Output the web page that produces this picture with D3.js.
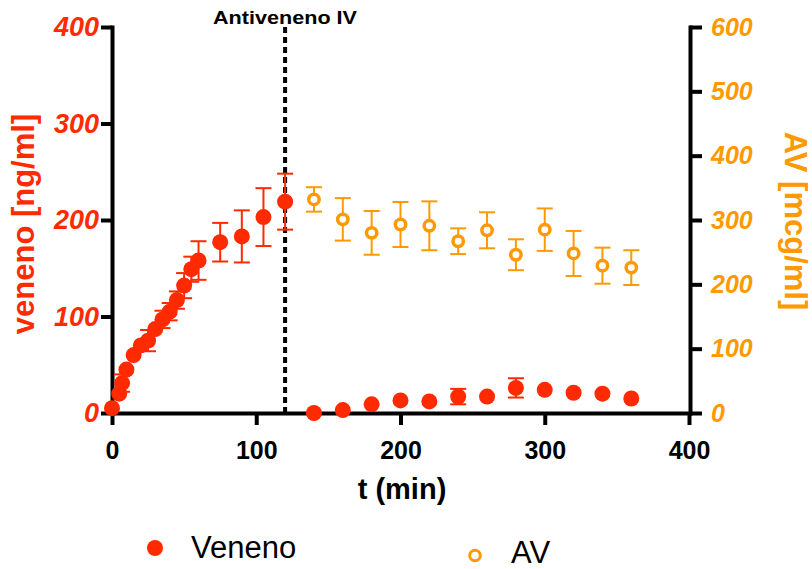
<!DOCTYPE html>
<html>
<head>
<meta charset="utf-8">
<script src="https://cdn.jsdelivr.net/npm/d3@7"></script>
<style>
  body { margin: 0; background: #fff; }
  svg { display: block; font-family: "Liberation Sans", Arial, sans-serif; }
</style>
</head>
<body>
<div id="vis-container"></div>
<script>

////////////////////////////////////
/////////////// Data ///////////////
////////////////////////////////////

const venenoTime = [0, 5, 7, 10, 15, 20, 25, 30, 35, 40, 45, 50, 55, 60, 75, 90, 105, 120,
    140, 160, 180, 200, 220, 240, 260, 280, 300, 320, 340, 360]
const venenoMean = [5, 20, 31, 45, 60, 70, 75, 87, 97, 105, 117, 132, 149, 158, 177, 183, 203, 219,
    0, 3, 9, 13, 12, 17, 17, 26, 24, 21, 20, 15]
const venenoSem = [3, 7, 9, 6, 4, 5, 11, 6, 9, 9, 9, 13, 13, 20, 20, 27, 30, 29,
    2, 2, 2, 2, 2, 8, 3, 10, 3, 3, 3, 3]

const avTime = [140, 160, 180, 200, 220, 240, 260, 280, 300, 320, 340, 360]
const avMean = [332, 301, 280, 293, 291, 267, 284, 246, 285, 248, 229, 226]
const avSem = [19, 33, 34, 35, 38, 20, 28, 24, 33, 35, 28, 27]

const xTicks = [0, 100, 200, 300, 400]
const yLeftTicks = [0, 100, 200, 300, 400]
const yRightTicks = [0, 100, 200, 300, 400, 500, 600]
const antivenenoTime = 120

const red = '#FF2A00'
const orange = '#FF9900'

////////////////////////////////////
///////////// SVG Setup ////////////
////////////////////////////////////

const svgWidth = 812
const svgHeight = 569

const plot = { left: 112, right: 690, top: 27, bottom: 413 }

const svg = d3.select('#vis-container')
    .append('svg')
    .attr('width', svgWidth)
    .attr('height', svgHeight)

////////////////////////////////////
/////////////// Scales /////////////
////////////////////////////////////

const xScale = d3.scaleLinear().domain([0, 400]).range([plot.left, plot.right - 1])
const yLeft = d3.scaleLinear().domain([0, 400]).range([plot.bottom, plot.top])
const yRight = d3.scaleLinear().domain([0, 600]).range([plot.bottom, plot.top])

const venenoData = venenoTime.map((t, i) => ({ t, v: venenoMean[i], e: venenoSem[i] }))
const avData = avTime.map((t, i) => ({ t, v: avMean[i], e: avSem[i] }))

////////////////////////////////////
////////////// Axis ////////////////
////////////////////////////////////

function styleAxis(g, color) {
    g.selectAll('path, line').attr('stroke', '#000').attr('stroke-width', 4)
    g.select('.domain').attr('stroke-linecap', 'square')
    g.selectAll('text').attr('fill', color)
}

svg.append('g')
    .attr('transform', `translate(0,${plot.bottom})`)
    .call(d3.axisBottom(xScale).tickValues(xTicks).tickSize(12).tickSizeOuter(0).tickPadding(16))
    .call(g => styleAxis(g, '#000'))
    .call(g => g.selectAll('text').attr('font-size', 25).attr('font-weight', 'bold')
        .attr('font-family', '"Liberation Sans", Arial, sans-serif'))

svg.append('g')
    .attr('transform', `translate(${plot.left},0)`)
    .call(d3.axisLeft(yLeft).tickValues(yLeftTicks).tickSize(11).tickSizeOuter(0).tickPadding(2))
    .call(g => styleAxis(g, red))
    .call(g => g.selectAll('text').attr('font-size', 27).attr('font-weight', 'bold')
        .attr('font-style', 'italic').attr('font-family', '"Liberation Sans", Arial, sans-serif'))

svg.append('g')
    .attr('transform', `translate(${plot.right},0)`)
    .call(d3.axisRight(yRight).tickValues(yRightTicks).tickSize(12).tickSizeOuter(0).tickPadding(9))
    .call(g => styleAxis(g, orange))
    .call(g => g.selectAll('text').attr('font-size', 25).attr('font-weight', 'bold')
        .attr('font-style', 'italic').attr('font-family', '"Liberation Sans", Arial, sans-serif'))

// axis titles
svg.append('text')
    .attr('x', 402).attr('y', 499)
    .attr('text-anchor', 'middle')
    .attr('font-size', 29).attr('font-weight', 'bold')
    .text('t (min)')

svg.append('text')
    .attr('transform', 'translate(34,224) rotate(-90)')
    .attr('text-anchor', 'middle')
    .attr('font-size', 31).attr('font-weight', 'bold')
    .attr('fill', red)
    .text('veneno [ng/ml]')

svg.append('text')
    .attr('transform', 'translate(785,221) rotate(90)')
    .attr('text-anchor', 'middle')
    .attr('font-size', 31).attr('font-weight', 'bold')
    .attr('fill', orange)
    .text('AV [mcg/ml]')

////////////////////////////////////
///////// Antiveneno line //////////
////////////////////////////////////

svg.append('line')
    .attr('x1', xScale(antivenenoTime)).attr('x2', xScale(antivenenoTime))
    .attr('y1', plot.top).attr('y2', plot.bottom)
    .attr('stroke', '#000')
    .attr('stroke-width', 4)
    .attr('stroke-dasharray', '6,4')

svg.append('text')
    .attr('x', 213).attr('y', 24)
    .attr('font-size', 18.5).attr('font-weight', 'bold')
    .attr('textLength', 144).attr('lengthAdjust', 'spacingAndGlyphs')
    .text('Antiveneno IV')

////////////////////////////////////
//////////// Error bars ////////////
////////////////////////////////////

const capHalf = 8

function errorBars(data, y, color, minPx) {
    const g = svg.append('g')
        .attr('stroke', color)
        .attr('stroke-width', 2)
    const shown = data.filter(d => y(d.v) - y(d.v + d.e) > minPx)
    g.selectAll('.bar').data(shown).join('line')
        .attr('class', 'bar')
        .attr('x1', d => xScale(d.t)).attr('x2', d => xScale(d.t))
        .attr('y1', d => y(d.v + d.e)).attr('y2', d => y(Math.max(0, d.v - d.e)))
    g.selectAll('.capTop').data(shown).join('line')
        .attr('class', 'capTop')
        .attr('x1', d => xScale(d.t) - capHalf).attr('x2', d => xScale(d.t) + capHalf)
        .attr('y1', d => y(d.v + d.e)).attr('y2', d => y(d.v + d.e))
    g.selectAll('.capBot').data(shown.filter(d => d.v - d.e > 0)).join('line')
        .attr('class', 'capBot')
        .attr('x1', d => xScale(d.t) - capHalf).attr('x2', d => xScale(d.t) + capHalf)
        .attr('y1', d => y(d.v - d.e)).attr('y2', d => y(d.v - d.e))
}

errorBars(venenoData, yLeft, red, 7.5)
errorBars(avData, yRight, orange, 6)

////////////////////////////////////
///////////// Points ///////////////
////////////////////////////////////

svg.selectAll('.veneno')
    .data(venenoData)
    .join('circle')
    .attr('class', 'veneno')
    .attr('cx', d => xScale(d.t))
    .attr('cy', d => yLeft(d.v))
    .attr('r', 8)
    .attr('fill', red)

svg.selectAll('.av')
    .data(avData)
    .join('circle')
    .attr('class', 'av')
    .attr('cx', d => xScale(d.t))
    .attr('cy', d => yRight(d.v))
    .attr('r', 5.2)
    .attr('fill', '#fff')
    .attr('stroke', orange)
    .attr('stroke-width', 3.5)

////////////////////////////////////
///////////// Legend ///////////////
////////////////////////////////////

const legend = svg.append('g')

legend.append('circle')
    .attr('cx', 155).attr('cy', 548).attr('r', 8)
    .attr('fill', red)

legend.append('text')
    .attr('x', 191).attr('y', 558)
    .attr('font-size', 31)
    .text('Veneno')

legend.append('circle')
    .attr('cx', 475).attr('cy', 555.5).attr('r', 5.3)
    .attr('fill', '#fff')
    .attr('stroke', orange)
    .attr('stroke-width', 3)

legend.append('text')
    .attr('x', 511).attr('y', 563)
    .attr('font-size', 31)
    .text('AV')

</script>
</body>
</html>
